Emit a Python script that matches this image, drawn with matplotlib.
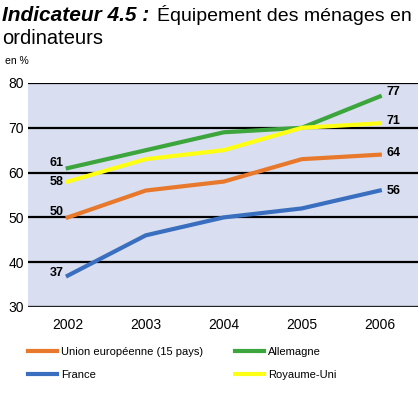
import matplotlib.pyplot as plt

plt.rcParams['font.family'] = ['Liberation Sans', 'DejaVu Sans']

years = [2002, 2003, 2004, 2005, 2006]
ue15 = [50, 56, 58, 63, 64]
france = [37, 46, 50, 52, 56]
allemagne = [61, 65, 69, 70, 77]
royaume_uni = [58, 63, 65, 70, 71]
yticks = [30, 40, 50, 60, 70, 80]

fig = plt.figure(figsize=(4.19, 3.96), dpi=100)
W, H = 419, 396
ax = fig.add_axes([28 / W, (H - 307) / H, 390 / W, 224 / H])
ax.set_facecolor('#d9dff0')

for y in yticks[1:]:
    ax.axhline(y, color='black', lw=1.6, zorder=1)
ax.axhline(30, color='#222222', lw=2.4, zorder=1)

lw = 3.0
l_ue, = ax.plot(years, ue15, color='#e8792c', lw=lw, label='Union européenne (15 pays)', zorder=3)
l_fr, = ax.plot(years, france, color='#3a6fc0', lw=lw, label='France', zorder=3)
l_de, = ax.plot(years, allemagne, color='#3ca53c', lw=lw, label='Allemagne', zorder=3)
l_uk, = ax.plot(years, royaume_uni, color='#ffff14', lw=lw, label='Royaume-Uni', zorder=4)

ax.set_xlim(2001.49, 2006.49)
ax.set_ylim(30, 80)
ax.set_xticks(years)
ax.set_yticks(yticks)
ax.tick_params(length=0, labelsize=10, colors='black')
ax.tick_params(axis='x', pad=8)
ax.tick_params(axis='y', pad=3)
for s in ax.spines.values():
    s.set_visible(False)

lab = dict(fontsize=9, fontweight='bold', family=['Liberation Sans Narrow', 'Liberation Sans'],
           textcoords='offset points', va='center')
for series, dy in [(allemagne, 4), (royaume_uni, 0), (ue15, 4), (france, 2)]:
    ax.annotate(str(series[0]), (years[0], series[0]), xytext=(-3, dy), ha='right', **lab)
for series, dy in [(allemagne, 3), (royaume_uni, 2), (ue15, 1), (france, 0)]:
    ax.annotate(str(series[-1]), (years[-1], series[-1]), xytext=(5, dy), ha='left', **lab)

# titre : partie grasse italique puis texte normal
fig.text(2 / W, 1 - 21 / H, 'Indicateur 4.5 :', fontsize=15, fontweight='bold', fontstyle='italic')
fig.text(157 / W, 1 - 21 / H, 'Équipement des ménages en', fontsize=14)
fig.text(2 / W, 1 - 44 / H, 'ordinateurs', fontsize=14.5)
fig.text(5 / W, 1 - 64 / H, 'en %', fontsize=7.5)

fig.legend(handles=[l_ue, l_fr, l_de, l_uk], ncol=2, frameon=False, fontsize=8,
           loc='upper left', bbox_to_anchor=(28 / W, 1 - 347 / H),
           handlelength=2.6, handletextpad=0.35, columnspacing=2.9, labelspacing=1.15,
           borderpad=0, borderaxespad=0)

fig.savefig('out.png', dpi=100)
